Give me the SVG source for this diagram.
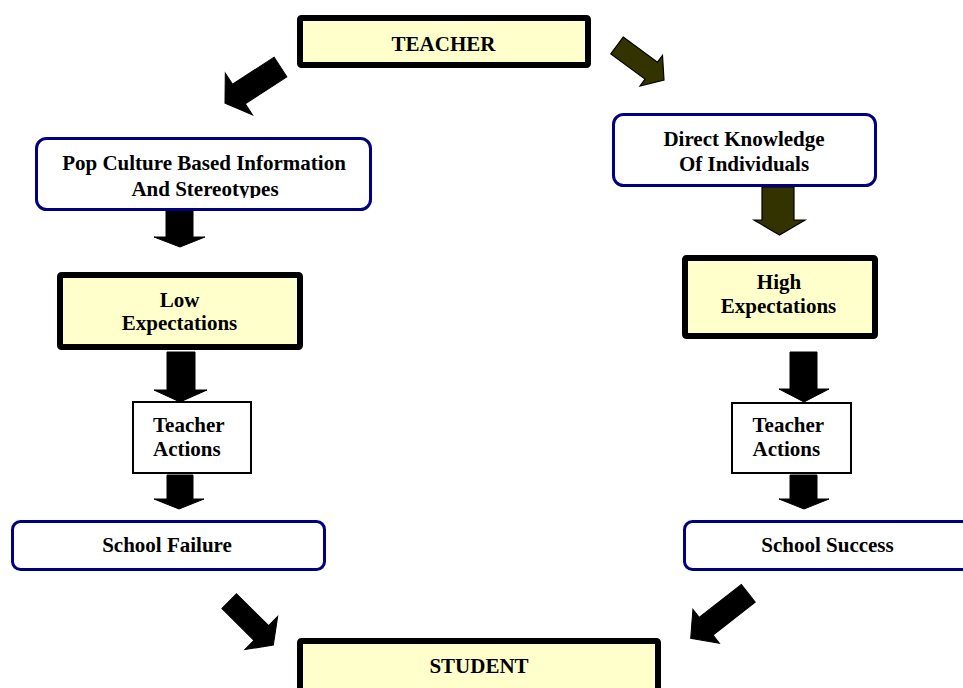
<svg xmlns="http://www.w3.org/2000/svg" width="963" height="688" viewBox="0 0 963 688">
  <style>
    .lbl { font-family: "Liberation Serif", "Times New Roman", serif; font-weight: bold; font-size: 21px; fill: #000; }
    .mid { text-anchor: middle; }
    .key { fill: #FFFFCC; stroke: #000; stroke-width: 6; }
    .info { fill: #fff; stroke: #000080; stroke-width: 3; }
    .act { fill: #fff; stroke: #000; stroke-width: 2; }
    .arr { fill: #000; stroke: #000; stroke-width: 1; stroke-linejoin: miter; }
    .olive { fill: #333300; stroke: #000; stroke-width: 1.2; }
  </style>
  <defs>
    <clipPath id="clip-pop">
      <rect x="36" y="138" width="336" height="60"/>
    </clipPath>
  </defs>

  <rect width="963" height="688" fill="#fff"/>

  <!-- block arrows between the boxes -->
  <g id="connectors">
    <!-- teacher to pop culture -->
    <path class="arr" transform="translate(280.5,67) rotate(147)" d="M0,-11.7 H49.6 V-25 L66.2,0 L49.6,25 V11.7 H0 Z"/>
    <!-- teacher to direct knowledge -->
    <path class="olive" transform="translate(617,45.5) rotate(36.3)" d="M0,-10.5 H42.5 V-19 L58.3,0 L42.5,19 V10.5 H0 Z"/>
    <!-- left column -->
    <polygon class="arr" points="166,210 193,210 193,237 205,237 180,247 154,237 166,237"/>
    <polygon class="arr" points="167,352 195,352 195,390 207,390 180,402 154,390 167,390"/>
    <polygon class="arr" points="167,475 193,475 193,499 204,499 179,509 154,499 167,499"/>
    <!-- right column -->
    <polygon class="olive" points="762,187 794,187 794,220 805,220 779.5,235 754,220 762,220"/>
    <polygon class="arr" points="790,352 817,352 817,389 829,389 804,402 779,389 790,389"/>
    <polygon class="arr" points="790,475 817,475 817,499 829,499 804,509 779,499 790,499"/>
    <!-- outcomes to student -->
    <path class="arr" transform="translate(229.2,601.2) rotate(44.8)" d="M0,-10.4 H45.2 V-23.3 L62.2,0 L45.2,23.3 V10.4 H0 Z"/>
    <path class="arr" transform="translate(748.3,593.3) rotate(142)" d="M0,-11.3 H53.5 V-21.5 L73.1,0 L53.5,21.5 V11.3 H0 Z"/>
  </g>

  <g id="teacher">
    <rect class="key" x="300" y="18" width="288" height="47" rx="1.5"/>
    <text class="lbl mid" x="443.5" y="50.5">TEACHER</text>
  </g>

  <g id="pop-culture">
    <rect class="info" x="36.5" y="138.5" width="334" height="71" rx="10"/>
    <g clip-path="url(#clip-pop)">
      <text class="lbl mid" x="204" y="170">Pop Culture Based Information</text>
      <text class="lbl mid" x="205" y="195.5">And Stereotypes</text>
    </g>
  </g>

  <g id="low-expectations">
    <rect class="key" x="60" y="275" width="240" height="72" rx="1.5"/>
    <text class="lbl mid" x="179.5" y="306.5">Low</text>
    <text class="lbl mid" x="179.5" y="330">Expectations</text>
  </g>

  <g id="teacher-actions-left">
    <rect class="act" x="133" y="402" width="118" height="71"/>
    <text class="lbl" x="153" y="432.3">Teacher</text>
    <text class="lbl" x="153" y="455.7">Actions</text>
  </g>

  <g id="school-failure">
    <rect class="info" x="12.5" y="521.5" width="312" height="48" rx="8"/>
    <text class="lbl mid" x="167" y="551.7">School Failure</text>
  </g>

  <g id="direct-knowledge">
    <rect class="info" x="613.5" y="114.5" width="262" height="71" rx="10"/>
    <text class="lbl mid" x="744" y="145.7">Direct Knowledge</text>
    <text class="lbl mid" x="744" y="171">Of Individuals</text>
  </g>

  <g id="high-expectations">
    <rect class="key" x="685" y="258" width="190" height="78" rx="1.5"/>
    <text class="lbl mid" x="779" y="289">High</text>
    <text class="lbl mid" x="778.5" y="313.3">Expectations</text>
  </g>

  <g id="teacher-actions-right">
    <rect class="act" x="732" y="403" width="119" height="70"/>
    <text class="lbl" x="752.5" y="432.3">Teacher</text>
    <text class="lbl" x="752.5" y="455.7">Actions</text>
  </g>

  <g id="school-success">
    <rect class="info" x="684.5" y="521.5" width="290" height="48" rx="8"/>
    <text class="lbl mid" x="827.5" y="552.3">School Success</text>
  </g>

  <g id="student">
    <rect class="key" x="300" y="641" width="358" height="60" rx="1.5"/>
    <text class="lbl mid" x="479" y="673">STUDENT</text>
  </g>
</svg>
